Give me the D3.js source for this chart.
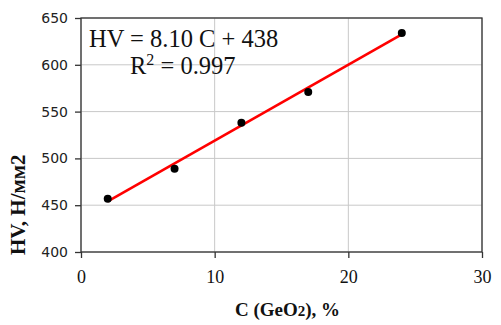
<!DOCTYPE html>
<html>
<head>
<meta charset="utf-8">
<script src="https://cdn.jsdelivr.net/npm/d3@7"></script>
<style>
  body { margin: 0; background: #fff; }
</style>
</head>
<body>
<svg id="chart" width="501" height="325"></svg>
<script>
// Measured data (GeO2 content vs hardness)
const concentration = [2, 7, 12, 17, 24];
const hardness = [457, 489, 538, 571, 634];

// Linear fit shown on the chart
const fitSlope = 8.10;
const fitIntercept = 438;
const fitRange = [2, 24];

const xTicks = [0, 10, 20, 30];
const yTicks = [400, 450, 500, 550, 600, 650];

const margin = { top: 18, right: 19, bottom: 73, left: 81 };
const width = 501 - margin.left - margin.right;
const height = 325 - margin.top - margin.bottom;

const serif = "'Liberation Serif', 'Times New Roman', Times, serif";

const svg = d3.select("#chart")
  .append("g")
  .attr("transform", `translate(${margin.left},${margin.top})`);

const x = d3.scaleLinear().domain([0, 30]).range([0, width]);
const y = d3.scaleLinear().domain([400, 650]).range([height, 0]);

// Grid
svg.append("g")
  .selectAll("line")
  .data(xTicks)
  .join("line")
  .attr("x1", d => x(d)).attr("x2", d => x(d))
  .attr("y1", 0).attr("y2", height)
  .style("stroke", "#c8c8c8");

svg.append("g")
  .selectAll("line")
  .data(yTicks)
  .join("line")
  .attr("x1", 0).attr("x2", width)
  .attr("y1", d => y(d)).attr("y2", d => y(d))
  .style("stroke", "#c8c8c8");

// Frame
svg.append("rect")
  .attr("width", width)
  .attr("height", height)
  .style("fill", "none")
  .style("stroke", "#333")
  .style("stroke-width", 1.3);

// Axes
const xAxis = svg.append("g")
  .attr("transform", `translate(0,${height})`)
  .attr("font-family", serif)
  .call(d3.axisBottom(x).tickValues(xTicks).tickSize(6).tickPadding(12));
xAxis.select(".domain").remove();
xAxis.selectAll("line").style("stroke", "#333").style("stroke-width", 1.3);
xAxis.selectAll("text")
  .attr("font-family", serif)
  .attr("font-size", 18)
  .style("fill", "#111");

const yAxis = svg.append("g")
  .call(d3.axisLeft(y).tickValues(yTicks).tickSize(6).tickPadding(7));
yAxis.select(".domain").remove();
yAxis.selectAll("line").style("stroke", "#333").style("stroke-width", 1.3);
yAxis.selectAll("text")
  .attr("font-family", "'DejaVu Sans', Verdana, sans-serif")
  .attr("font-size", 14)
  .style("fill", "#222");

// Trend line
svg.append("line")
  .attr("x1", x(fitRange[0]))
  .attr("y1", y(fitSlope * fitRange[0] + fitIntercept))
  .attr("x2", x(fitRange[1]))
  .attr("y2", y(fitSlope * fitRange[1] + fitIntercept))
  .style("stroke", "#ff0000")
  .style("stroke-width", 2.6);

// Points
svg.append("g")
  .selectAll("circle")
  .data(concentration)
  .join("circle")
  .attr("cx", d => x(d))
  .attr("cy", (d, i) => y(hardness[i]))
  .attr("r", 4)
  .style("fill", "#000");

// Equation
svg.append("text")
  .attr("x", 8).attr("y", 29)
  .attr("font-family", serif)
  .attr("font-size", 24.5)
  .style("fill", "#111")
  .text("HV = 8.10 C + 438");

const r2 = svg.append("text")
  .attr("x", 49).attr("y", 56)
  .attr("font-family", serif)
  .attr("font-size", 24.5)
  .style("fill", "#111");
r2.append("tspan").text("R");
r2.append("tspan").attr("dy", -9).attr("font-size", 16).text("2");
r2.append("tspan").attr("dy", 9).text(" = 0.997");

// Axis titles
const xt = svg.append("text")
  .attr("x", width / 2 + 6)
  .attr("y", height + 64)
  .attr("text-anchor", "middle")
  .attr("font-family", serif)
  .attr("font-weight", "bold")
  .attr("font-size", 19)
  .style("fill", "#111");
xt.append("tspan").text("C (GeO");
xt.append("tspan").attr("font-size", 15).text("2");
xt.append("tspan").text("), %");

// start anchored at the bottom, reads upwards
svg.append("text")
  .attr("transform", `translate(${-56},${height + 3}) rotate(-90)`)
  .attr("text-anchor", "start")
  .attr("font-family", serif)
  .attr("font-weight", "bold")
  .attr("font-size", 21)
  .style("fill", "#111")
  .text("HV, H/мм2");
</script>
</body>
</html>
